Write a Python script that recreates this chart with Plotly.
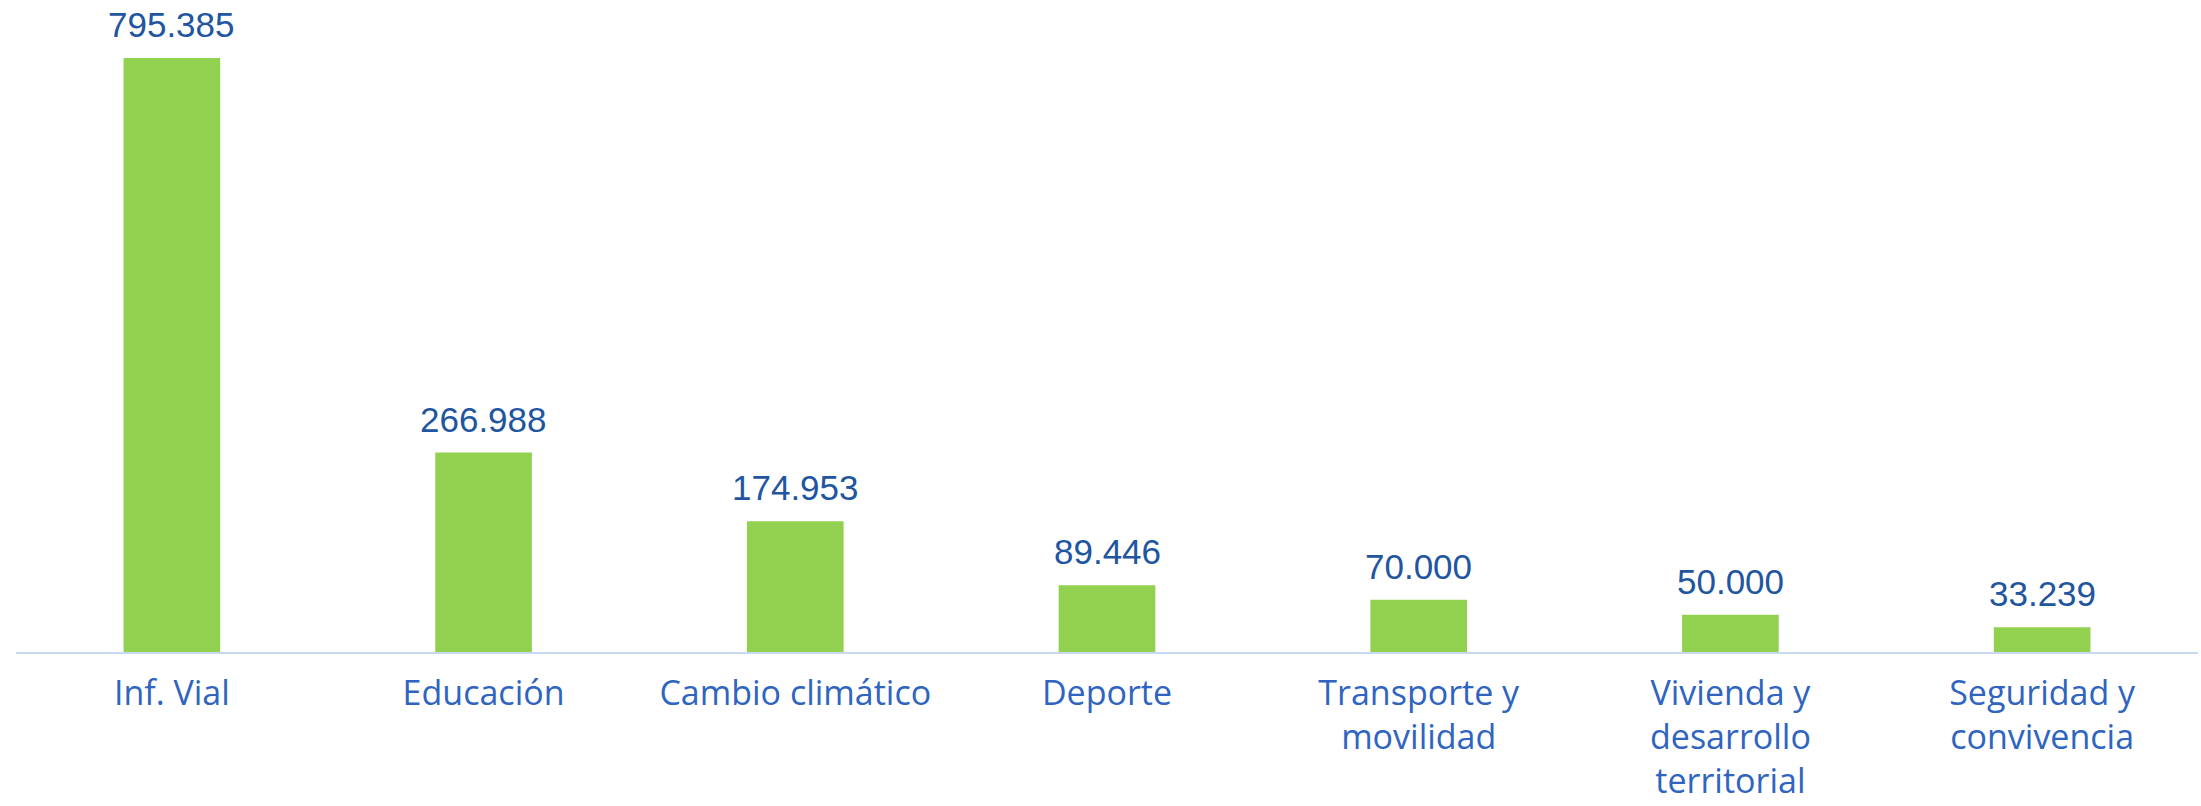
import plotly.graph_objects as go

categories = ["Inf. Vial", "Educación", "Cambio climático", "Deporte",
              "Transporte y<br>movilidad", "Vivienda y<br>desarrollo<br>territorial",
              "Seguridad y<br>convivencia"]
values = [795385, 266988, 174953, 89446, 70000, 50000, 33239]

bar_color = "#92D050"
value_color = "#22559F"
cat_color = "#2F64C0"

fig = go.Figure()
fig.add_trace(go.Bar(
    x=categories, y=values, marker=dict(color=bar_color, line=dict(width=0)),
    hoverinfo="skip",
))
for c, v in zip(categories, values):
    fig.add_annotation(x=c, y=v, text=f"{v:,}".replace(",", "."), showarrow=False,
                       yanchor="bottom", yshift=12,
                       font=dict(family="Liberation Sans, Arial", size=35, color=value_color))

fig.update_layout(
    width=2201, height=806,
    margin=dict(l=16, r=3, t=8, b=154),
    plot_bgcolor="white", paper_bgcolor="white",
    bargap=0.69, showlegend=False,
    separators=",.",
    xaxis=dict(showline=True, linecolor="#C6D9F0", linewidth=2, ticks="",
               ticklabelstandoff=10, automargin=False,
               tickfont=dict(family="Open Sans, Liberation Sans", size=34, color=cat_color)),
    yaxis=dict(range=[0, 862300], visible=False, showgrid=False, automargin=False),
)
fig.write_html("out.html", config={"displayModeBar": False},
               post_script="document.body.style.margin='0';")
